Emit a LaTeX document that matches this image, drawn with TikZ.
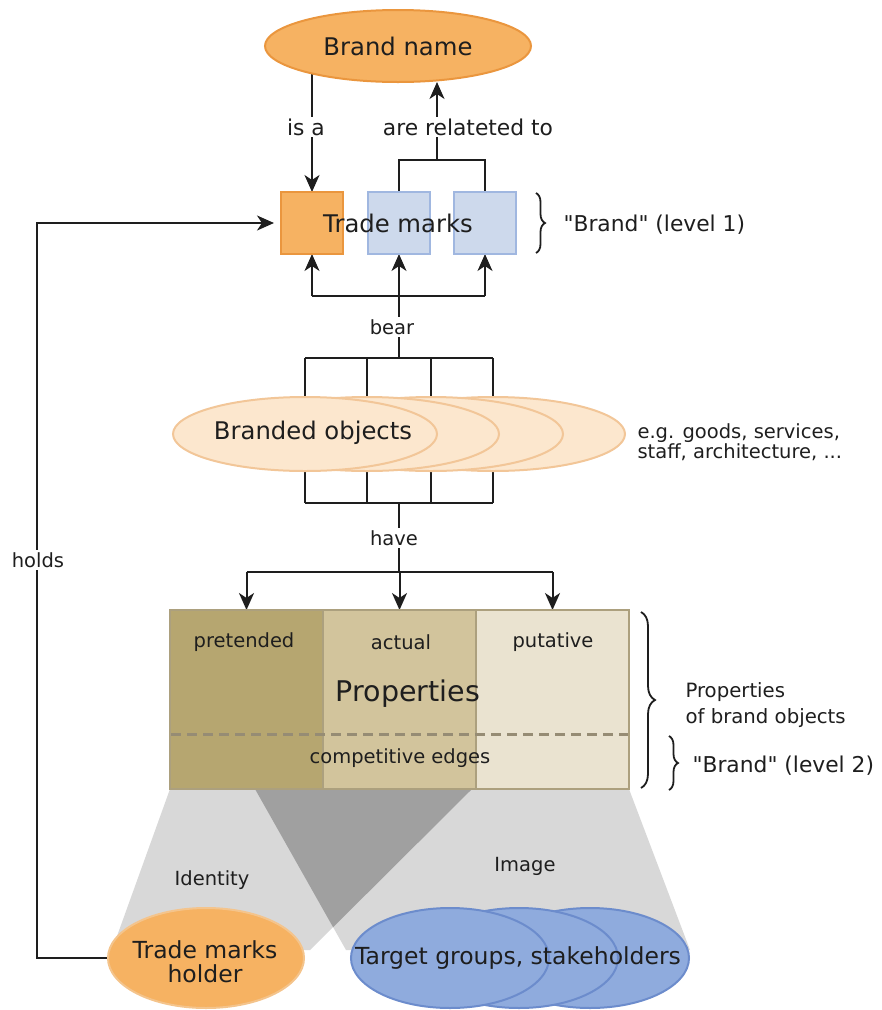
\documentclass[tikz,border=0pt]{standalone}
\usepackage{fontspec}
\setmainfont{DejaVu Sans}[Ligatures=TeXOff]
\usetikzlibrary{arrows.meta,shapes.geometric,decorations.pathreplacing,calc}
\pgfdeclarelayer{bg}
\pgfsetlayers{bg,main}

\definecolor{ink}{RGB}{30,30,30}
\definecolor{orangefill}{RGB}{246,178,98}
\definecolor{orangeline}{RGB}{234,150,62}
\definecolor{holderline}{RGB}{244,196,140}
\definecolor{peachfill}{RGB}{252,231,206}
\definecolor{peachline}{RGB}{242,198,152}
\definecolor{boxblue}{RGB}{205,217,236}
\definecolor{boxblueline}{RGB}{160,183,224}
\definecolor{groupfill}{RGB}{143,171,221}
\definecolor{groupline}{RGB}{108,140,204}
\definecolor{propA}{RGB}{182,166,112}
\definecolor{propB}{RGB}{210,196,156}
\definecolor{propC}{RGB}{234,227,208}
\definecolor{propline}{RGB}{172,160,126}
\definecolor{dashcol}{RGB}{150,140,116}
\definecolor{funnel}{RGB}{216,216,216}
\definecolor{overlap}{RGB}{160,160,160}

\begin{document}
\begin{tikzpicture}[x=1pt,y=-1pt,
  every node/.style={text=ink},
  big/.style={font=\fontsize{24.3}{27}\selectfont},
  huge/.style={font=\fontsize{28.5}{31}\selectfont},
  mid/.style={font=\fontsize{21.8}{24}\selectfont},
  small/.style={font=\fontsize{19.5}{23}\selectfont},
  oval/.style={ellipse, line width=2pt, inner sep=0pt, outer sep=0pt},
  tmbox/.style={rectangle, line width=2pt, minimum width=62pt, minimum height=62pt, inner sep=0pt, outer sep=0pt},
  propcol/.style={rectangle, draw=propline, line width=1.5pt, minimum width=153pt, minimum height=179pt, inner sep=0pt, outer sep=0pt},
  conn/.style={draw=ink, line width=2pt},
  arr/.style={conn, -{Stealth[length=17pt, width=15pt, inset=5pt]}},
  lbl/.style={small, fill=white, inner sep=2pt},
  bracefig/.style={draw=ink, line width=1.8pt, decorate}
]
\useasboundingbox (0,0) rectangle (882,1010);

% ---- brand name and trade marks ----
\node[oval, minimum width=266pt, minimum height=72pt, fill=orangefill, draw=orangeline, big] (bn) at (398,46) {Brand name};

\node[tmbox, fill=orangefill, draw=orangeline] (tm1) at (312,223) {};
\node[tmbox, fill=boxblue, draw=boxblueline] (tm2) at (399,223) {};
\node[tmbox, fill=boxblue, draw=boxblueline] (tm3) at (485,223) {};
\node[big] (tmtext) at (398,223) {Trade marks};

\draw[bracefig, decoration={brace, amplitude=9pt}] (536,193) -- (536,253);
\node[mid, anchor=west] (lvl1) at (560,225) {"Brand" (level 1)};

% ---- branded objects ----
\node[oval, minimum width=264pt, minimum height=74pt, fill=peachfill, draw=peachline] (o4) at (493,434) {};
\node[oval, minimum width=264pt, minimum height=74pt, fill=peachfill, draw=peachline] (o3) at (431,434) {};
\node[oval, minimum width=264pt, minimum height=74pt, fill=peachfill, draw=peachline] (o2) at (367,434) {};
\node[oval, minimum width=264pt, minimum height=74pt, fill=peachfill, draw=peachline] (o1) at (305,434) {};
\node[big] (botext) at (313,433) {Branded objects};
\node[small, anchor=west, align=left, font=\fontsize{19.5}{20.5}\selectfont] (egtext) at (634,442) {e.g. goods, services,\\staff, architecture, ...};

% ---- properties ----
\node[propcol, fill=propA] (p1) at (246.5,699.5) {};
\node[propcol, fill=propB] (p2) at (399.5,699.5) {};
\node[propcol, fill=propC] (p3) at (552.5,699.5) {};
\node[small] (pretended) at (244,642) {pretended};
\node[small] (actual) at (401,642) {actual};
\node[small] (putative) at (553,642) {putative};
\node[huge] (proptext) at (408,694) {Properties};
\coordinate (dashL) at (171,734);
\coordinate (dashR) at (628,734);
\draw[draw=dashcol, line width=3pt, dash pattern=on 10pt off 6pt] (dashL) -- (dashR);
\node[small] (edges) at (400,758) {competitive edges};

\draw[bracefig, decoration={brace, amplitude=14pt}] (641,612) -- (641,788);
\node[small, anchor=west, align=left, font=\fontsize{19.7}{26}\selectfont] (propobj) at (682,705) {Properties\\of brand objects};
\draw[bracefig, decoration={brace, amplitude=9pt}] (669,736) -- (669,790);
\node[mid, anchor=west] (lvl2) at (689,766) {"Brand" (level 2)};

% ---- holder and target groups ----
\node[oval, minimum width=196pt, minimum height=100pt, fill=orangefill, draw=holderline] (holder) at (206,958) {};
\node[big, align=center, font=\fontsize{23.5}{24}\selectfont] (holdtext) at (205,962) {Trade marks\\holder};
\node[oval, minimum width=198pt, minimum height=100pt, fill=groupfill, draw=groupline] (g3) at (590,958) {};
\node[oval, minimum width=198pt, minimum height=100pt, fill=groupfill, draw=groupline] (g2) at (519,958) {};
\node[oval, minimum width=198pt, minimum height=100pt, fill=groupfill, draw=groupline] (g1) at (450,958) {};
\node[big, font=\fontsize{23.5}{26}\selectfont] (grtext) at (518,958) {Target groups, stakeholders};

\node[small] (identity) at (212,880) {Identity};
\node[small] (image) at (525,866) {Image};

% ---- background: funnels and connectors ----
\begin{pgfonlayer}{bg}
  \coordinate (idTL) at (170,789);
  \coordinate (idTR) at (472,789);
  \coordinate (idBL) at (112,950);
  \coordinate (idBR) at (310,950);
  \coordinate (imTL) at (255,789);
  \coordinate (imTR) at (629,789);
  \coordinate (imBL) at (346,950);
  \coordinate (imBR) at (690,950);
  \fill[funnel] (idTL) -- (idTR) -- (idBR) -- (idBL) -- cycle;
  \fill[funnel] (imTL) -- (imTR) -- (imBR) -- (imBL) -- cycle;
  \coordinate (apex) at (intersection of idTR--idBR and imTL--imBL);
  \fill[overlap] (imTL) -- (idTR) -- (apex) -- cycle;

  % is a / are related to
  \draw[arr] (tm1.north |- bn.center) -- (tm1.north);
  \coordinate (rel) at (437,160);
  \draw[conn] (tm2.north) |- (rel) -| (tm3.north);
  \draw[arr] (rel) -- (rel |- bn.south);

  % bear
  \coordinate (bearTop) at (399,296);
  \coordinate (bearBot) at (399,358);
  \draw[conn] (tm1.south |- bearTop) -- (tm3.south |- bearTop);
  \draw[arr] (tm1.south |- bearTop) -- (tm1.south);
  \draw[arr] (tm2.south |- bearTop) -- (tm2.south);
  \draw[arr] (tm3.south |- bearTop) -- (tm3.south);
  \draw[conn] (bearTop) -- (bearBot);
  \draw[conn] (o1.center |- bearBot) -- (o4.center |- bearBot);
  \foreach \o in {o1,o2,o3,o4} \draw[conn] (\o.center |- bearBot) -- (\o.center);

  % have
  \coordinate (haveTop) at (399,503);
  \coordinate (haveBot) at (399,572);
  \foreach \o in {o1,o2,o3,o4} \draw[conn] (\o.center) -- (\o.center |- haveTop);
  \draw[conn] (o1.center |- haveTop) -- (o4.center |- haveTop);
  \draw[conn] (haveTop) -- (haveBot);
  \draw[conn] (p1.north |- haveBot) -- (p3.north |- haveBot);
  \draw[arr] (p1.north |- haveBot) -- (p1.north);
  \draw[arr] (p2.north |- haveBot) -- (p2.north);
  \draw[arr] (p3.north |- haveBot) -- (p3.north);

  % holds
  \coordinate (hc) at (37,958);
  \draw[arr] (holder.west) -- (hc) |- ([xshift=-7pt]tm1.west);
\end{pgfonlayer}

\node[lbl, mid] (isa) at (306,127) {is a};
\node[lbl, mid] (related) at (468,127) {are relateted to};
\node[lbl] (bear) at (392,327) {bear};
\node[lbl] (have) at (394,538) {have};
\node[lbl] (holds) at (38,560) {holds};
\end{tikzpicture}
\end{document}
